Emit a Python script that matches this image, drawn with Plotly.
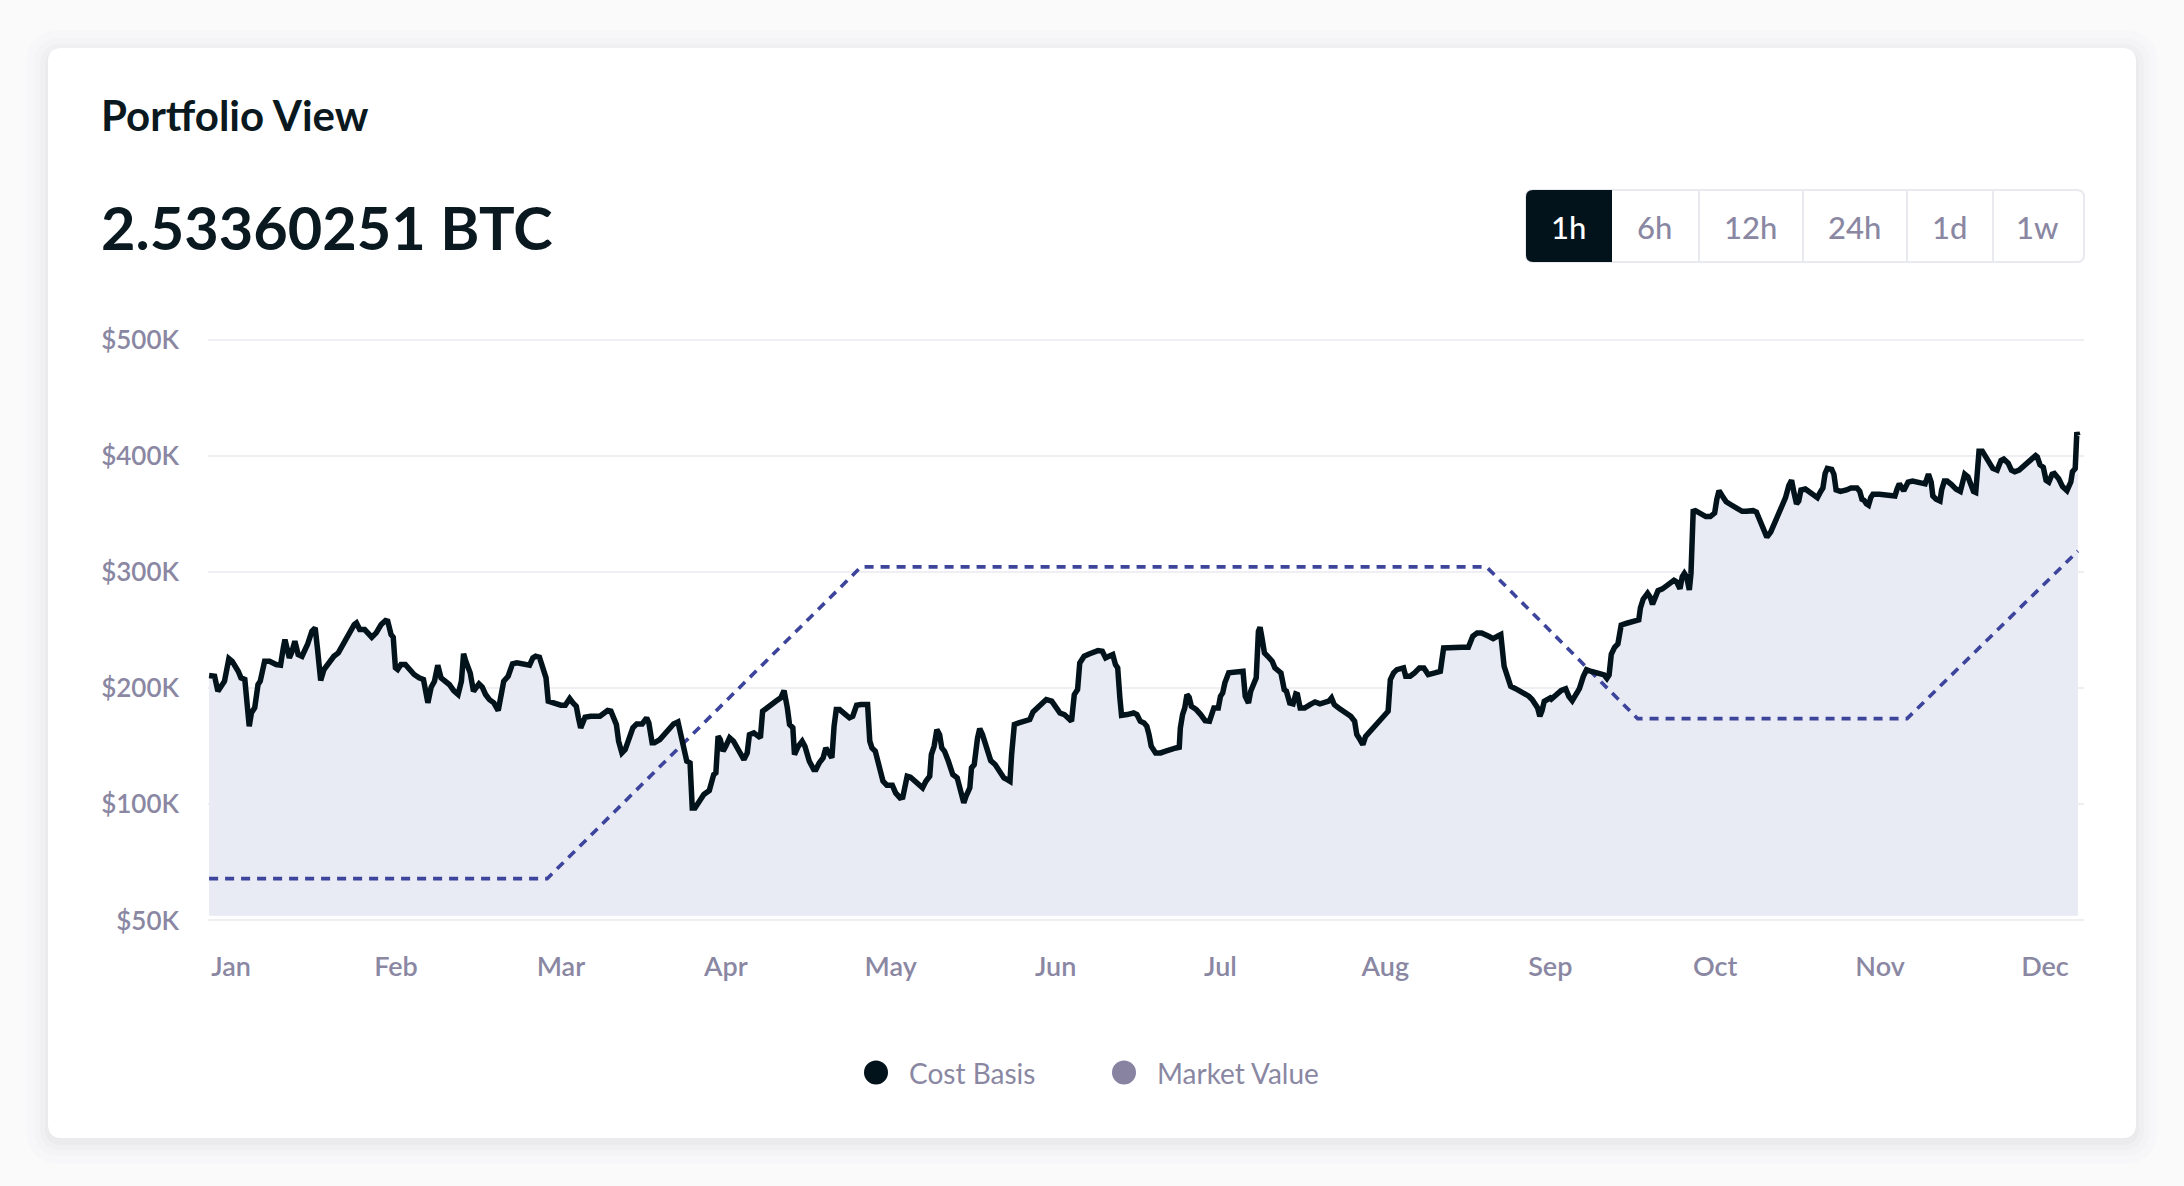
import plotly.graph_objects as go

# ---------------- data ----------------
MONTHS = ["Jan", "Feb", "Mar", "Apr", "May", "Jun", "Jul", "Aug", "Sep", "Oct", "Nov", "Dec"]

# day index (from start of series) and Cost Basis in $K
DAYS = [0.0, 1.0, 1.6, 2.4, 2.8, 3.6, 4.2, 5.3, 5.8, 6.5, 7.3, 7.7, 8.3, 8.9, 9.3, 10.1, 11.0, 12.2, 13.0, 13.5,
        13.8, 14.6, 15.0, 15.6, 16.2, 16.9, 17.9, 18.7, 19.3, 19.7, 20.3, 20.9, 21.9, 22.7, 23.5, 24.4, 25.2, 25.8,
        26.4, 26.8, 27.4, 28.3, 29.6, 30.4, 31.3, 32.1, 32.5, 33.1, 33.5, 33.9, 34.3, 34.9, 35.7, 36.5, 37.3, 38.2,
        39.0, 39.8, 40.4, 41.0, 41.6, 42.2, 42.9, 43.7, 44.5, 45.3, 45.9, 46.3, 46.7, 47.1, 47.5, 48.1, 48.7, 49.1,
        49.7, 50.3, 51.0, 51.8, 52.6, 53.2, 53.6, 54.4, 55.2, 56.0, 57.3, 58.3, 58.9, 59.4, 60.1, 60.5, 60.9, 61.3,
        61.7, 62.5, 64.0, 64.8, 65.6, 66.2, 66.8, 67.2, 67.6, 68.4, 69.4, 71.1, 71.9, 72.5, 73.1, 73.5, 74.1, 74.5,
        75.1, 75.7, 76.3, 77.1, 77.8, 78.8, 79.6, 80.0, 80.6, 81.0, 82.0, 82.8, 83.6, 84.5, 85.3, 85.7, 86.1, 86.9,
        87.5, 87.9, 88.4, 89.2, 90.0, 91.0, 91.8, 92.2, 92.6, 93.0, 93.5, 94.0, 94.7, 95.4, 96.6, 97.3, 97.9, 98.3,
        99.1, 99.7, 100.3, 100.7, 101.4, 102.3, 103.1, 104.0, 104.6, 105.2, 105.6, 106.2, 106.5, 107.2, 107.9, 108.4,
        109.2, 110.0, 110.4, 111.0, 111.7, 112.2, 112.9, 113.3, 113.7, 114.1, 114.7, 115.5, 116.5, 117.1, 117.8,
        118.6, 119.8, 120.2, 120.6, 121.2, 121.8, 122.6, 123.3, 124.3, 124.9, 125.7,
        126.2, 126.5, 127.0, 127.6, 128.4, 129.2, 129.8, 130.4, 131.1, 131.4, 131.9, 132.4, 132.9, 133.3, 133.8,
        134.5, 135.3, 136.1, 136.5, 136.9, 137.3, 137.7, 138.4, 138.7, 139.2, 139.8, 140.2, 140.7, 141.4, 142.2,
        143.0, 143.4, 144.2, 144.6, 145.2, 145.7, 146.0, 146.5, 147.3, 148.3, 149.3, 149.9, 150.7, 151.5, 152.3,
        153.3, 154.1, 154.8, 155.6, 156.4, 156.9, 157.4, 158.0, 158.4, 159.2, 160.1, 160.9, 161.7, 162.5, 163.1,
        163.7, 164.4, 164.9, 165.3, 165.7, 166.0, 167.0, 168.2, 168.8, 169.4, 170.1, 170.6, 171.0, 171.4, 172.2,
        173.1, 173.9, 174.7, 175.9, 176.5, 176.7, 177.1, 177.5, 177.9, 178.3, 178.7, 179.6, 180.4, 181.2, 182.0,
        182.4, 182.8, 183.6, 184.0, 184.4, 184.8, 185.5, 186.5, 187.4, 188.1, 188.5, 189.1, 189.5, 190.1, 190.5,
        190.9, 191.2, 191.5, 192.0, 192.6, 193.4, 193.9, 194.6, 195.0, 195.6, 196.0, 196.6, 197.2, 197.7, 198.0,
        198.5, 199.3, 200.3, 201.2, 202.1, 202.9, 203.7, 204.2, 204.7, 205.5, 206.4, 206.9, 207.7, 208.4, 208.8,
        209.2, 209.9, 210.4, 211.2, 212.0, 212.9, 213.7, 214.5, 214.9, 215.5, 216.1, 217.3, 217.7, 218.5, 219.3,
        220.2, 221.0, 221.8, 223.0, 224.0, 224.6, 225.9, 227.9, 229.1, 229.9, 230.7, 231.5, 232.8, 233.6, 234.4,
        235.0, 235.6, 236.2, 236.8, 238.0, 239.3, 240.1, 240.7, 241.7, 242.1, 242.5, 242.9, 244.0,
        244.2, 245.0, 246.0, 246.8, 247.4, 248.0, 248.7, 249.3, 250.0, 250.6, 251.5, 252.7, 253.8, 254.3, 254.7,
        255.1, 255.7, 256.3, 256.9, 257.9, 259.1, 260.1, 260.4, 260.9, 261.7, 262.2, 262.6, 263.1, 263.6, 264.4,
        264.9, 265.7, 266.5, 267.0, 267.6, 268.0, 268.4, 268.8, 269.3, 269.6, 270.0, 270.4, 271.4, 272.3, 273.1,
        273.9, 274.3, 274.7, 275.3, 276.0, 276.8, 277.3, 278.1, 278.9, 279.7, 280.9, 281.5, 282.1, 282.5, 283.1,
        283.4, 284.1, 284.9, 285.7, 286.3, 286.8, 287.4, 287.9, 288.4, 288.8, 289.2, 289.6, 290.4, 291.4, 292.2,
        292.6, 293.2, 293.6, 294.0, 294.4, 295.2, 295.6, 296.0, 296.8, 297.9, 298.7, 299.8, 300.3, 300.7, 301.1,
        301.5, 301.9, 302.3, 302.7, 303.9, 305.5, 306.7, 307.1, 307.5, 308.3, 309.1, 309.9, 310.7, 311.5, 312.2,
        312.8, 313.3, 313.6, 314.2, 314.9, 315.2, 315.7, 316.2, 317.0, 317.8, 318.6, 319.0, 319.4, 320.0, 320.6,
        321.0, 321.4, 321.8, 322.0, 322.6, 323.1, 323.8, 324.5, 325.3, 326.0, 326.5, 327.3, 327.9, 328.5, 329.3,
        330.1, 330.9, 331.7, 332.3, 332.6, 333.1, 333.7, 334.2, 334.7, 335.3, 335.7, 336.5, 337.2, 338.0, 338.7,
        339.0, 339.5, 339.6, 339.8, 340.0]

COST_BASIS = [210.8, 210.2, 197.3, 203.1, 205.9, 225.4, 223.1, 214.5, 208.8, 207.4, 167.2, 178.7, 183.0, 203.1, 205.9,
              223.1, 223.1, 220.3, 219.7, 234.6, 241.8, 226.0, 230.3, 240.4, 228.9, 227.4, 237.5, 249.0, 251.8, 234.6,
              206.5, 216.0, 223.1, 227.4, 230.3, 237.5, 246.1, 249.0, 254.7, 256.1, 250.4, 250.4, 243.8, 247.5, 254.7,
              258.1, 257.6, 246.1, 243.8, 217.4, 216.0, 220.3, 220.3, 216.0, 211.7, 208.8, 207.4, 187.3, 200.8, 205.9,
              219.7, 208.8, 206.5, 203.1, 197.9, 194.5, 205.9, 229.5, 223.1, 216.0, 213.1, 197.3, 200.8, 203.6, 200.8,
              194.5, 190.1, 187.3, 180.7, 194.5, 205.9, 210.2, 220.8, 221.7, 220.8, 219.7, 226.0, 227.4, 226.6, 220.3,
              211.7, 208.8, 188.7, 187.3, 185.3, 185.3, 191.0, 187.3, 184.4, 174.4, 165.8, 174.9, 175.8, 175.8, 178.7,
              180.7, 180.1, 174.4, 168.6, 154.3, 144.2, 147.1, 154.3, 165.8, 169.2, 169.2, 174.4, 170.1, 152.9, 152.9,
              155.7, 160.0, 164.3, 169.2, 170.9, 163.5, 151.4, 137.1, 135.6, 96.9, 96.9, 102.6, 108.4, 111.8, 125.6,
              127.0, 158.6, 155.7, 145.7, 150.0, 157.2, 154.3, 142.8, 138.5, 144.2, 160.0, 161.5, 160.0, 157.2, 180.1,
              183.0, 185.8, 188.7, 191.6, 197.9, 183.0, 168.6, 165.8, 142.8, 150.0, 154.3, 150.0, 137.1, 129.9, 129.9,
              135.6, 139.9, 148.5, 141.4, 139.9, 167.2, 181.5, 181.5, 178.7, 174.4, 175.8, 185.3, 185.8, 185.8, 154.3,
              148.5, 145.7, 135.6, 119.9, 116.4, 116.4, 109.8, 105.5,
              106.1, 114.1, 124.1, 123.3, 119.8, 115.5, 114.1, 119.8, 124.1, 142.8, 149.9, 164.3, 160.0, 148.5, 145.6,
              137.0, 125.6, 122.7, 114.1, 105.5, 101.2, 106.9, 114.1, 131.3, 134.2, 157.1, 165.1, 160.0, 148.5, 137.6,
              134.2, 131.3, 125.6, 122.7, 121.2, 119.8, 142.8, 168.6, 170.0, 172.0, 172.9, 179.5, 182.9, 187.2, 190.1,
              188.7, 182.9, 178.6, 177.2, 174.3, 171.5, 194.4, 198.7, 221.7, 227.4, 229.4, 230.3, 232.3, 231.7, 226.0,
              227.4, 228.8, 220.2, 217.4, 191.5, 176.6, 177.2, 178.6, 177.2, 171.5, 170.0, 167.2, 160.0, 149.9, 144.2,
              144.2, 145.6, 147.1, 148.5, 149.1, 165.7, 177.2, 182.9, 194.4, 192.1, 184.4, 181.5, 177.2, 172.0, 171.5,
              177.2, 182.9, 182.9, 193.0, 195.8, 204.5, 213.1, 213.9, 215.1, 214.5, 193.0, 187.2, 197.3, 205.9, 208.8,
              248.9, 252.4, 244.6, 230.3, 227.4, 223.1, 217.4, 214.5, 213.1, 198.7, 197.3, 187.2, 186.4, 195.0, 194.4,
              182.9, 182.9, 185.8, 188.1, 186.4, 187.2, 188.7, 191.5, 185.8, 182.9, 180.1, 177.2, 175.8, 171.5, 160.0,
              157.1, 151.4, 158.5, 162.8, 167.2, 171.5, 177.2, 180.1, 207.3, 213.1, 215.9, 217.4, 210.2, 210.2, 213.1,
              217.4, 217.4, 211.6, 213.1, 214.5, 234.6, 235.2, 235.2, 235.2, 244.6, 247.5, 247.5, 244.6, 242.6, 244.6,
              246.1, 218.8, 211.6, 201.6, 198.7, 195.8, 193.0, 190.1, 182.9, 175.8, 180.6, 188.7, 191.5,
              190.6, 193.6, 198.0, 199.5, 192.7, 189.1, 195.0, 199.5, 209.9, 215.8, 214.3, 212.8, 211.3, 208.4, 211.3,
              229.1, 235.0, 238.0, 254.3, 255.8, 257.3, 258.7, 269.1, 276.5, 281.6, 278.0, 272.1, 279.5, 283.9, 285.4,
              286.9, 290.5, 292.8, 291.3, 285.4, 295.8, 298.7, 295.8, 284.5, 298.7, 352.1, 352.7, 350.6, 347.6, 347.6,
              350.6, 362.5, 369.9, 365.4, 360.4, 358.0, 356.5, 354.5, 352.1, 352.1, 352.7, 351.5, 344.7, 342.6, 332.8,
              329.9, 334.3, 343.2, 352.7, 356.5, 363.9, 374.3, 378.8, 366.9, 358.6, 361.0, 370.5, 371.3, 368.4, 365.4,
              363.9, 369.3, 372.2, 384.7, 389.1, 388.2, 384.1, 370.5, 369.3, 370.5, 372.2, 372.2, 369.3, 362.5, 361.6,
              358.6, 357.4, 363.9, 366.9, 366.9, 366.3, 365.4, 371.3, 375.8, 369.9, 377.3, 378.2, 377.3, 375.8, 375.8,
              384.1, 377.3, 365.4, 362.5, 361.0, 370.5, 378.2, 378.2, 375.2, 371.3, 369.3, 376.4, 384.1, 381.7, 375.8,
              369.3, 368.4, 387.6, 403.9, 403.9, 400.1, 395.0, 389.1, 387.6, 395.9, 397.1, 393.6, 387.6, 386.2, 387.6,
              390.6, 394.2, 398.0, 400.1, 398.9, 392.1, 390.0, 378.8, 377.3, 384.1, 384.7, 380.2, 373.4, 369.9, 377.3,
              386.2, 389.1, 415.8, 420.2, 417.3]

# Market Value ($K) at its turning days
MV_DAYS = [0.0, 61.5, 118.6, 232.4, 259.9, 308.9, 340.0]
MARKET_VALUE = [36.0, 36.0, 304.3, 304.3, 173.7, 173.7, 318.0]

Y_TICK_VALUES = [0, 100, 200, 300, 400, 500]
Y_TICK_LABELS = ["$50K", "$100K", "$200K", "$300K", "$400K", "$500K"]

TITLE = "Portfolio View"
BALANCE = "2.53360251 BTC"
RANGE_BUTTONS = ["1h", "6h", "12h", "24h", "1d", "1w"]
ACTIVE_BUTTON = "1h"
LEGEND_LABELS = ["Cost Basis", "Market Value"]

# ---------------- style ----------------
W, H = 2184, 1186
FONT = "Lato"
INK = "#03131B"
MUTED = "#8A87A3"
GRID = "#EEEEF3"
FILL = "#E8EAF4"
DOTTED = "#3C449C"
LEGEND_COLORS = ["#03131B", "#8783A1"]
FILL_BASE = 4.0


def px(x):
    return x / W


def py(y):
    return 1 - y / H


def rr_path(x0, y0, x1, y1, r, left=True, right=True):
    rl = r if left else 0
    rr = r if right else 0

    def P(x, y):
        return f"{px(x):.6f},{py(y):.6f}"

    parts = [f"M{P(x0 + rl, y0)}", f"L{P(x1 - rr, y0)}"]
    if rr:
        parts.append(f"Q{P(x1, y0)} {P(x1, y0 + rr)}")
    parts.append(f"L{P(x1, y1 - rr)}")
    if rr:
        parts.append(f"Q{P(x1, y1)} {P(x1 - rr, y1)}")
    parts.append(f"L{P(x0 + rl, y1)}")
    if rl:
        parts.append(f"Q{P(x0, y1)} {P(x0, y1 - rl)}")
    parts.append(f"L{P(x0, y0 + rl)}")
    if rl:
        parts.append(f"Q{P(x0, y0)} {P(x0 + rl, y0)}")
    parts.append("Z")
    return " ".join(parts)


fig = go.Figure()

# hidden fill baseline
fig.add_trace(go.Scatter(x=[DAYS[0], DAYS[-1]], y=[FILL_BASE, FILL_BASE], mode="lines",
                         line=dict(width=0, color=FILL), hoverinfo="skip", showlegend=False))
# area under cost basis
fig.add_trace(go.Scatter(x=DAYS, y=COST_BASIS, mode="lines", fill="tonexty", fillcolor=FILL,
                         line=dict(width=0, color=FILL), hoverinfo="skip", showlegend=False))
# market value dotted line
fig.add_trace(go.Scatter(x=MV_DAYS, y=MARKET_VALUE, mode="lines", name=LEGEND_LABELS[1],
                         line=dict(color=DOTTED, width=3.6, dash="9px,7px"), showlegend=False))
# cost basis line
fig.add_trace(go.Scatter(x=DAYS, y=COST_BASIS, mode="lines", name=LEGEND_LABELS[0],
                         line=dict(color=INK, width=5.5), showlegend=False))

shapes = []
# page shadow + card
for grow, alpha in [(22, 0.010), (14, 0.014), (8, 0.018), (3, 0.022)]:
    shapes.append(dict(type="path", xref="paper", yref="paper", layer="below",
                       path=rr_path(48 - grow, 48 - grow + 4, 2136 + grow, 1138 + grow + 4, 14 + grow),
                       fillcolor=f"rgba(40,40,60,{alpha})", line=dict(width=0)))
shapes.append(dict(type="path", xref="paper", yref="paper", layer="below",
                   path=rr_path(48, 48, 2136, 1138, 14), fillcolor="white", line=dict(width=0)))

# range buttons
BTN_EDGES = [1526, 1612, 1699, 1803, 1907, 1993, 2084]
BTN_TOP, BTN_BOT = 190, 262
shapes.append(dict(type="path", xref="paper", yref="paper", layer="above",
                   path=rr_path(BTN_EDGES[0], BTN_TOP, BTN_EDGES[-1], BTN_BOT, 7),
                   fillcolor="rgba(0,0,0,0)", line=dict(color="#E9E9F0", width=2)))
for e in BTN_EDGES[2:-1]:
    shapes.append(dict(type="line", xref="paper", yref="paper", layer="above",
                       x0=px(e), x1=px(e), y0=py(BTN_TOP), y1=py(BTN_BOT),
                       line=dict(color="#E9E9F0", width=2)))
ai = RANGE_BUTTONS.index(ACTIVE_BUTTON)
shapes.append(dict(type="path", xref="paper", yref="paper", layer="above",
                   path=rr_path(BTN_EDGES[ai], BTN_TOP, BTN_EDGES[ai + 1], BTN_BOT, 7,
                                left=(ai == 0), right=(ai == len(RANGE_BUTTONS) - 1)),
                   fillcolor=INK, line=dict(width=0)))

annotations = [
    dict(text=TITLE, x=px(99), y=py(115), xref="paper", yref="paper", xanchor="left", yanchor="middle",
         showarrow=False, font=dict(family=FONT, size=42, color="#0A1820", weight=700)),
    dict(text=BALANCE, x=px(99), y=py(227), xref="paper", yref="paper", xanchor="left", yanchor="middle",
         showarrow=False, font=dict(family=FONT, size=59.5, color="#0A1820", weight=700)),
]
for i, lab in enumerate(RANGE_BUTTONS):
    cx = (BTN_EDGES[i] + BTN_EDGES[i + 1]) / 2
    annotations.append(dict(text=lab, x=px(cx - 1), y=py(227), xref="paper", yref="paper",
                            xanchor="center", yanchor="middle", showarrow=False,
                            font=dict(family=FONT, size=31, color="white" if i == ai else MUTED, weight=500)))

# legend (manual)
LEG_Y = 1072.5
LEG_DOTS = [876, 1124]
for lab, col, cx in zip(LEGEND_LABELS, LEGEND_COLORS, LEG_DOTS):
    shapes.append(dict(type="circle", xref="paper", yref="paper", layer="above",
                       x0=px(cx - 12), x1=px(cx + 12), y0=py(LEG_Y + 12), y1=py(LEG_Y - 12),
                       fillcolor=col, line=dict(width=0)))
    annotations.append(dict(text=lab, x=px(cx + 31), y=py(LEG_Y), xref="paper", yref="paper",
                            xanchor="left", yanchor="middle", showarrow=False,
                            font=dict(family=FONT, size=28, color=MUTED)))

month_ticks = [4 + 30 * i for i in range(len(MONTHS))]

fig.update_layout(
    width=W, height=H,
    margin=dict(l=0, r=0, t=0, b=0, autoexpand=False),
    paper_bgcolor="#FAFAFB",
    plot_bgcolor="rgba(0,0,0,0)",
    showlegend=False,
    font=dict(family=FONT, color=MUTED),
    shapes=shapes,
    annotations=annotations,
    xaxis=dict(domain=[px(208), px(2084)], range=[-0.2, 341.1], showgrid=False, zeroline=False,
               showline=False, ticks="", tickvals=month_ticks, ticktext=MONTHS,
               tickfont=dict(family=FONT, size=27, color=MUTED, weight=600), ticklabelstandoff=26,
               fixedrange=True),
    yaxis=dict(domain=[py(922.0), py(338.0)], range=[-1.3, 501.3], showgrid=True, gridcolor=GRID, gridwidth=2,
               zeroline=False, showline=False, ticks="", tickvals=Y_TICK_VALUES, ticktext=Y_TICK_LABELS,
               tickfont=dict(family=FONT, size=26, color=MUTED, weight=600), ticklabelstandoff=28,
               fixedrange=True),
)

fig.write_html("out.html", config={"displayModeBar": False},
               post_script="document.body.style.margin='0';document.body.style.overflow='hidden';")
